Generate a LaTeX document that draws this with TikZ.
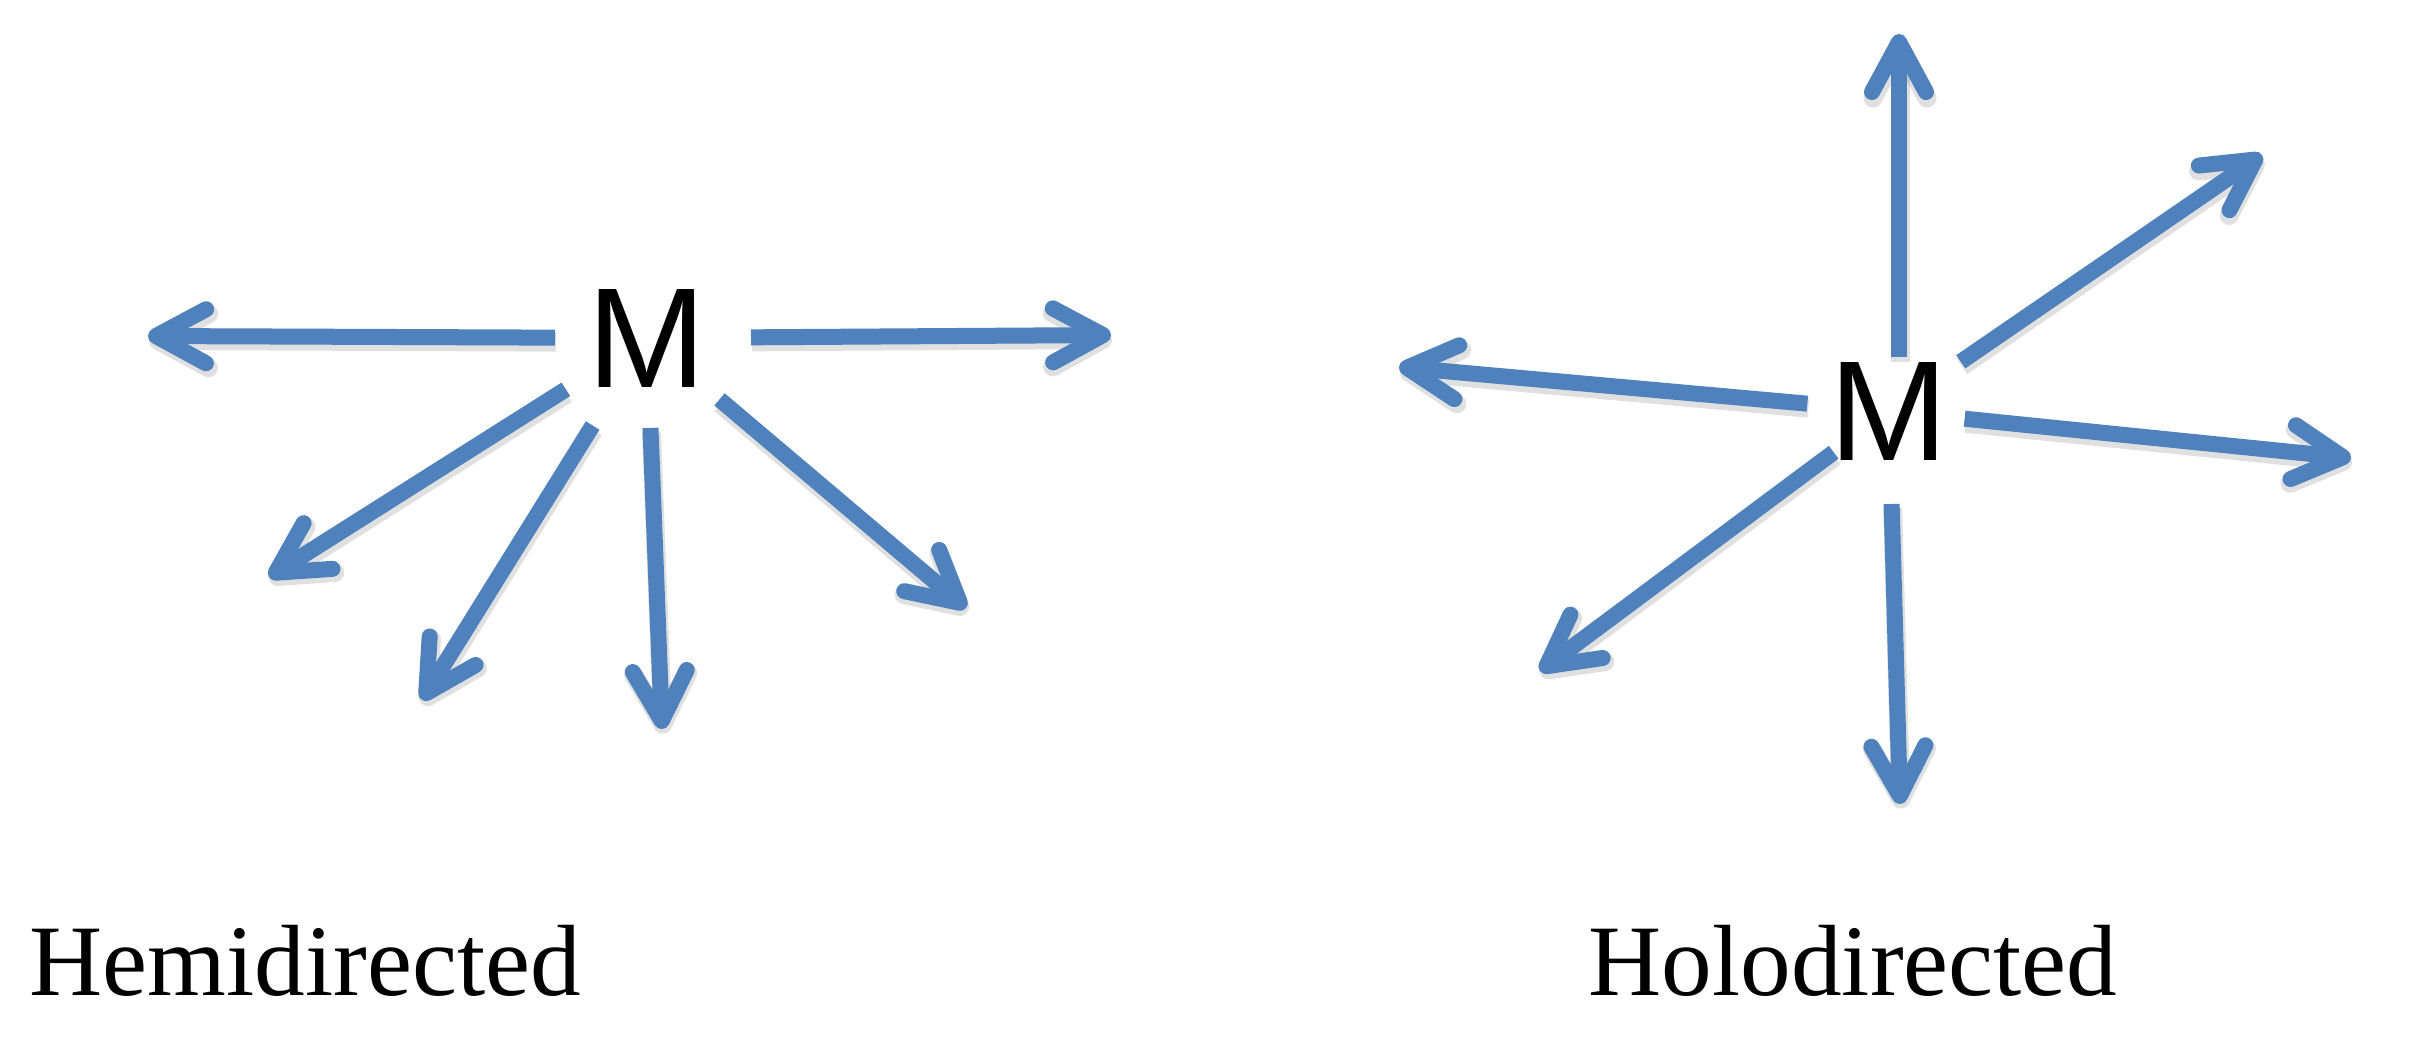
\documentclass[tikz,border=0pt]{standalone}
\usepackage{fontspec}
\setmainfont{Liberation Serif}
\newfontfamily\metalfont{Liberation Sans}
\usetikzlibrary{arrows.meta}
\newlength{\du}
\setlength{\du}{0.01cm}
\definecolor{bondcolor}{rgb}{0.310000, 0.505882, 0.741176}
\tikzset{
  bond/.style={draw=bondcolor, line width=0.16cm,
    -{Straight Barb[length=5mm,width=5.4mm,line cap=round,line join=round]},
    preaction={draw=black, draw opacity=0.12, line width=0.19cm,
      transform canvas={shift={(0.01cm,-0.045cm)}}}},
  metal/.style={inner sep=0pt, font=\metalfont\fontsize{40.5}{48}\selectfont},
  caption/.style={inner sep=0pt, anchor=base west, font=\fontsize{28.8}{34}\selectfont},
}

\begin{document}
\begin{tikzpicture}
\pgftransformxscale{1.000000}
\pgftransformyscale{-1.000000}
\useasboundingbox (0\du,0\du) rectangle (2427\du,1048\du);
% hemidirected
\node[metal] (hemiM) at (647\du,338\du){M};
\coordinate (hemiW) at (148\du,336\du);
\coordinate (hemiE) at (1111\du,335\du);
\coordinate (hemiSWa) at (269\du,577\du);
\coordinate (hemiSWb) at (422\du,700\du);
\coordinate (hemiS) at (662\du,729\du);
\coordinate (hemiSE) at (966\du,608\du);
\foreach \tip/\gap in {hemiW/92,hemiE/104,hemiSWa/96,hemiSWb/103,hemiS/90,hemiSE/95}
  \draw[bond, shorten <=\gap\du] (hemiM.center) -- (\tip);
% holodirected
\node[metal] (holoM) at (1889\du,411\du){M};
\coordinate (holoN) at (1899\du,34\du);
\coordinate (holoNE) at (2262\du,155\du);
\coordinate (holoW) at (1399\du,367\du);
\coordinate (holoE) at (2351\du,458\du);
\coordinate (holoSW) at (1540\du,671\du);
\coordinate (holoS) at (1900\du,804\du);
\draw[bond, shorten <=4\du] (holoM.north -| holoN) -- (holoN);
\foreach \tip/\gap in {holoNE/87,holoW/82,holoE/76,holoSW/69,holoS/93}
  \draw[bond, shorten <=\gap\du] (holoM.center) -- (\tip);
% setfont left to latex
\node[caption] (hemiLabel) at (29\du,995\du){Hemidirected};
\node[caption] (holoLabel) at (1588\du,995\du){Holodirected};
\end{tikzpicture}
\end{document}
